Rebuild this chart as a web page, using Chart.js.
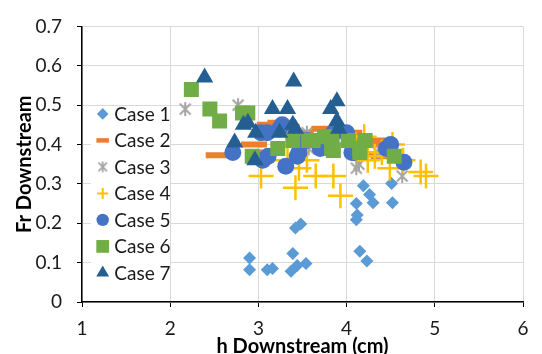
<!DOCTYPE html>
<html>
<head>
<meta charset="utf-8">
<script src="https://cdn.jsdelivr.net/npm/chart.js@4/dist/chart.umd.min.js"></script>
<style>
  html, body { margin: 0; padding: 0; background: #fff; }
</style>
</head>
<body>
<canvas id="scatterChart" width="542" height="354"></canvas>
<script>
/* ================= Data ================= */

const caseNames = ['Case 1', 'Case 2', 'Case 3', 'Case 4', 'Case 5', 'Case 6', 'Case 7'];

const case1H  = [2.90, 2.90, 3.10, 3.16, 3.39, 3.37, 3.44, 3.54, 3.42, 3.48, 4.15, 4.23, 4.11, 4.12, 4.11, 4.19, 4.26, 4.30, 4.51, 4.52];
const case1Fr = [0.112, 0.082, 0.082, 0.085, 0.123, 0.078, 0.093, 0.098, 0.188, 0.198, 0.129, 0.104, 0.250, 0.221, 0.209, 0.295, 0.273, 0.252, 0.301, 0.252];

const case2H  = [2.55, 2.95, 3.05, 3.13, 3.25, 3.32, 3.48, 3.62, 3.75, 3.90, 4.03, 4.18, 4.30, 4.38, 4.42, 4.35];
const case2Fr = [0.373, 0.40, 0.38, 0.45, 0.455, 0.445, 0.43, 0.42, 0.44, 0.43, 0.43, 0.41, 0.41, 0.40, 0.37, 0.375];

const case3H  = [2.17, 2.77, 2.82, 3.55, 3.57, 3.90, 4.11, 4.14, 4.36, 4.63, 4.50];
const case3Fr = [0.49, 0.50, 0.48, 0.43, 0.39, 0.41, 0.34, 0.35, 0.38, 0.32, 0.39];

const case4H  = [3.03, 3.33, 3.42, 3.46, 3.55, 3.65, 3.85, 3.93, 4.10, 4.24, 4.32, 4.40, 4.49, 4.52, 4.64, 4.84, 4.90, 4.20];
const case4Fr = [0.32, 0.36, 0.29, 0.34, 0.36, 0.32, 0.32, 0.27, 0.40, 0.36, 0.37, 0.38, 0.34, 0.40, 0.36, 0.33, 0.32, 0.42];

const case5H  = [2.71, 3.03, 3.10, 3.05, 3.11, 3.24, 3.27, 3.31, 3.44, 3.46, 3.55, 3.70, 3.85, 4.00, 4.06, 4.08, 4.45, 4.50, 4.65];
const case5Fr = [0.38, 0.43, 0.43, 0.36, 0.37, 0.44, 0.45, 0.345, 0.37, 0.38, 0.41, 0.39, 0.43, 0.43, 0.38, 0.38, 0.39, 0.40, 0.355];

const case6H  = [2.24, 2.45, 2.56, 2.82, 2.88, 2.93, 3.22, 3.39, 3.57, 3.62, 3.75, 3.83, 3.83, 3.85, 4.02, 4.15, 4.15, 4.21, 4.54];
const case6Fr = [0.54, 0.49, 0.46, 0.48, 0.48, 0.37, 0.39, 0.41, 0.41, 0.41, 0.42, 0.42, 0.39, 0.385, 0.41, 0.39, 0.38, 0.41, 0.37];

const case7H  = [2.39, 2.73, 2.83, 2.88, 2.96, 2.97, 3.16, 3.24, 3.33, 3.39, 3.40, 3.42, 3.82, 3.89, 3.89, 3.91];
const case7Fr = [0.57, 0.405, 0.45, 0.455, 0.36, 0.43, 0.49, 0.43, 0.49, 0.45, 0.56, 0.44, 0.49, 0.51, 0.46, 0.44];

const xTickLabels = ['1', '2', '3', '4', '5', '6'];
const yTickLabels = ['0', '0.1', '0.2', '0.3', '0.4', '0.5', '0.6', '0.7'];

const seriesH  = [case1H, case2H, case3H, case4H, case5H, case6H, case7H];
const seriesFr = [case1Fr, case2Fr, case3Fr, case4Fr, case5Fr, case6Fr, case7Fr];

/* ================= Marker styles ================= */

// Excel's "*" marker: an X with a vertical bar through it
function asterisk(r, lw, color) {
  const s = Math.ceil(2 * r + lw + 2);
  const c = document.createElement('canvas');
  c.width = s;
  c.height = s;
  const g = c.getContext('2d');
  const m = s / 2;
  const d = r * 0.78;
  g.strokeStyle = color;
  g.lineWidth = lw;
  g.beginPath();
  g.moveTo(m, m - r); g.lineTo(m, m + r);
  g.moveTo(m - d, m - d); g.lineTo(m + d, m + d);
  g.moveTo(m + d, m - d); g.lineTo(m - d, m + d);
  g.stroke();
  return c;
}

const markers = [
  { style: 'rectRot',  color: '#5B9BD5', radius: 6.5,  line: 0,   legendR: 5.8, legendLine: 0 },
  { style: 'line',     color: '#ED7D31', radius: 13,   line: 6,   legendR: 6.3, legendLine: 4.5 },
  { style: asterisk(7, 2, '#A5A5A5'), legendStyle: asterisk(5.5, 1.8, '#A5A5A5'),
                       color: '#A5A5A5', radius: 7,    line: 2,   legendR: 5.5, legendLine: 0 },
  { style: 'cross',    color: '#FFC000', radius: 12.5, line: 2.5, legendR: 5.5, legendLine: 2 },
  { style: 'circle',   color: '#4472C4', radius: 8.5,  line: 0,   legendR: 6.2, legendLine: 0 },
  { style: 'rect',     color: '#70AD47', radius: 10.6, line: 0,   legendR: 9,   legendLine: 0 },
  { style: 'triangle', color: '#255E91', radius: 10,   line: 0,   legendR: 7.4, legendLine: 0 }
];

const datasets = caseNames.map((name, i) => {
  const m = markers[i];
  const stroked = m.style === 'line' || m.style === 'cross';
  return {
    label: name,
    data: seriesH[i].map((h, j) => ({ x: h, y: seriesFr[i][j] })),
    pointStyle: m.style,
    pointRadius: m.radius,
    pointHoverRadius: m.radius,
    pointBackgroundColor: m.color,
    pointBorderColor: m.color,
    pointBorderWidth: stroked ? m.line : 0,
    showLine: false,
    order: caseNames.length - i   // later cases on top, like Excel
  };
});

/* ================= Legend inside the plot ================= */

const insideLegend = {
  id: 'insideLegend',
  afterDraw(chart) {
    const ctx = chart.ctx;
    const area = chart.chartArea;
    const x0 = area.left + 20.7;
    const y0 = area.top + 87.5;
    ctx.save();
    ctx.fillStyle = '#fff';
    ctx.fillRect(area.left + 9, area.top + 83, 79, 178);
    caseNames.forEach((name, i) => {
      const m = markers[i];
      const y = y0 + i * 26.5;
      ctx.fillStyle = m.color;
      ctx.strokeStyle = m.color;
      ctx.lineWidth = m.legendLine;
      Chart.helpers.drawPoint(ctx, {
        pointStyle: m.legendStyle || m.style,
        radius: m.legendR,
        rotation: 0,
        borderWidth: m.legendLine
      }, x0, y);
      ctx.fillStyle = '#1a1a1a';
      ctx.font = '19px Lato';
      ctx.textAlign = 'left';
      ctx.textBaseline = 'middle';
      ctx.fillText(name, x0 + 11.6, y + 0.5);
    });
    ctx.restore();
  }
};

/* ================= Scatter Chart ================= */

const ctx = document.getElementById('scatterChart');

Chart.defaults.font.family = "Lato, 'Open Sans', sans-serif";
Chart.defaults.font.size = 19;
Chart.defaults.color = '#1a1a1a';

new Chart(ctx, {
  type: 'scatter',
  data: { datasets: datasets },
  options: {
    responsive: false,
    animation: false,
    layout: { padding: { top: 17, right: 13, left: 0, bottom: 0 } },
    plugins: {
      legend: { display: false },
      tooltip: { enabled: false }
    },
    scales: {
      x: {
        type: 'linear',
        min: 1,
        max: 6,
        afterFit: (scale) => { scale.height = 52; },
        ticks: {
          stepSize: 1,
          padding: 10,
          callback: (v) => xTickLabels[v - 1]
        },
        grid: { color: '#d9d9d9', tickColor: '#000', tickLength: 5 },
        border: { color: '#000', width: 1.5 },
        title: {
          display: true,
          text: 'h Downstream (cm)',
          font: { size: 20, weight: 'bold' },
          padding: { top: 0, bottom: -5 },
          color: '#000'
        }
      },
      y: {
        min: 0,
        max: 0.7,
        afterFit: (scale) => { scale.width = 82; },
        ticks: {
          stepSize: 0.1,
          padding: 15,
          callback: (v) => yTickLabels[Math.round(v * 10)]
        },
        grid: { color: '#d9d9d9', tickColor: '#000', tickLength: 5 },
        border: { color: '#000', width: 1.5 },
        title: {
          display: true,
          text: 'Fr Downstream',
          font: { size: 20, weight: 'bold' },
          padding: { top: 13, bottom: 0 },
          color: '#000'
        }
      }
    }
  },
  plugins: [insideLegend]
});
</script>
</body>
</html>
